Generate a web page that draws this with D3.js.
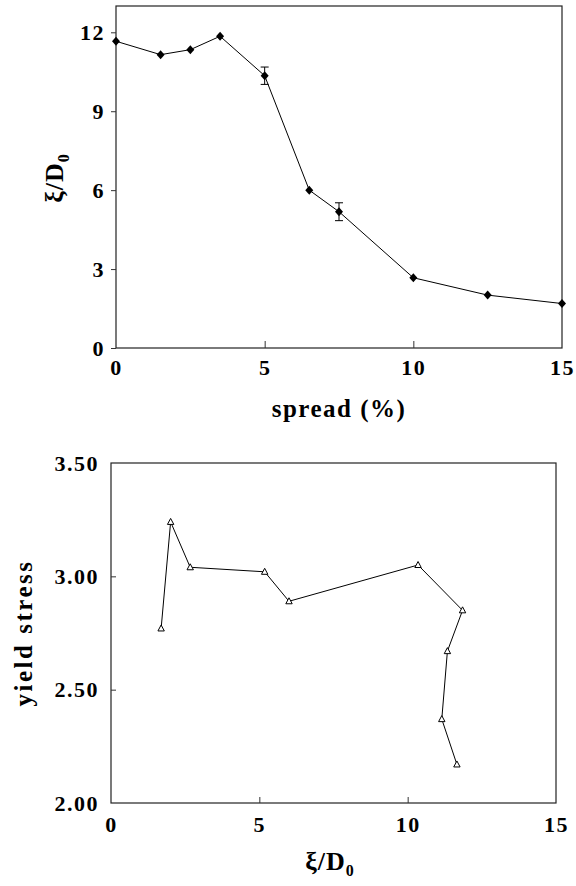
<!DOCTYPE html>
<html>
<head>
<meta charset="utf-8">
<script src="https://cdn.jsdelivr.net/npm/d3@7"></script>
<style>
  body { margin: 0; background: #fff; }
  text { font-family: "Liberation Serif", "Times New Roman", serif; font-weight: bold; fill: #000; }
</style>
</head>
<body>
<div id="chart"></div>
<script>
// top panel: xi/D0 vs spread
var spread = [0, 1.5, 2.5, 3.5, 5, 6.5, 7.5, 10, 12.5, 15];
var xiD0 = [11.66, 11.15, 11.34, 11.85, 10.35, 6.0, 5.18, 2.67, 2.01, 1.69];
var xiErr = [0, 0, 0, 0, 0.33, 0, 0.34, 0, 0, 0];
var topYTicks = [0, 3, 6, 9, 12];
var topXTicks = [0, 5, 10, 15];

// bottom panel: yield stress vs xi/D0 (same runs, reverse order)
var xiB = [1.69, 2.01, 2.67, 5.18, 6.0, 10.35, 11.85, 11.34, 11.15, 11.66];
var yieldStress = [2.77, 3.24, 3.04, 3.02, 2.89, 3.05, 2.85, 2.67, 2.37, 2.17];
var botYTicks = [2.0, 2.5, 3.0, 3.5];
var botXTicks = [0, 5, 10, 15];

var width = 576, height = 886;
var svg = d3.select("#chart").append("svg").attr("width", width).attr("height", height);

function styleTicks(a) {
    a.select(".domain").remove();
    a.selectAll("line").attr("stroke", "#333");
    a.selectAll("text").style("font-size", "22px").style("letter-spacing", "1.5px");
}

// ---------- top ----------
var x1 = d3.scaleLinear().domain([0, 15]).range([116, 562]);
var y1 = d3.scaleLinear().domain([0, 13]).range([348, 6]);

var g1 = svg.append("g");
g1.append("rect").attr("x", 116).attr("y", 6).attr("width", 446).attr("height", 342)
    .attr("fill", "none").attr("stroke", "#222").attr("stroke-width", 1.2);

var yAx1 = g1.append("g").attr("transform", "translate(116,0)")
    .call(d3.axisLeft(y1).tickValues(topYTicks).tickSize(5).tickPadding(6).tickFormat(d3.format("d")));
var xAx1 = g1.append("g").attr("transform", "translate(0,348)")
    .call(d3.axisBottom(x1).tickValues(topXTicks).tickSize(-7).tickPadding(11).tickFormat(d3.format("d")));
styleTicks(yAx1);
styleTicks(xAx1);
xAx1.selectAll("line").filter(function (d) { return d === 0 || d === 15; }).remove();

var line1 = d3.line().x(function (d, i) { return x1(spread[i]); }).y(function (d) { return y1(d); });
g1.append("path").datum(xiD0).attr("d", line1).attr("fill", "none").attr("stroke", "#000").attr("stroke-width", 1);

// error bars
var eb = g1.selectAll(".eb").data(xiD0.map(function (d, i) { return [spread[i], d, xiErr[i]]; }).filter(function (d) { return d[2] > 0; }))
    .enter().append("g").attr("class", "eb");
eb.append("line").attr("x1", function (d) { return x1(d[0]); }).attr("x2", function (d) { return x1(d[0]); })
    .attr("y1", function (d) { return y1(d[1] - d[2]); }).attr("y2", function (d) { return y1(d[1] + d[2]); })
    .attr("stroke", "#000");
[-1, 1].forEach(function (s) {
    eb.append("line").attr("x1", function (d) { return x1(d[0]) - 4; }).attr("x2", function (d) { return x1(d[0]) + 4; })
        .attr("y1", function (d) { return y1(d[1] + s * d[2]); }).attr("y2", function (d) { return y1(d[1] + s * d[2]); })
        .attr("stroke", "#000");
});

g1.selectAll(".dia").data(xiD0).enter().append("path")
    .attr("transform", function (d, i) { return "translate(" + x1(spread[i]) + "," + y1(d) + ")"; })
    .attr("d", "M0,-4.5L4,0L0,4.5L-4,0Z").attr("fill", "#000");

g1.append("text").attr("x", 339).attr("y", 417).attr("text-anchor", "middle")
    .style("font-size", "25px").style("letter-spacing", "1.5px").text("spread (%)");
var t1 = g1.append("text").attr("transform", "translate(63,178) rotate(-90)").attr("text-anchor", "middle")
    .style("font-size", "26px").style("letter-spacing", "1px");
t1.append("tspan").text("ξ/D");
t1.append("tspan").attr("dy", 6).style("font-size", "16px").text("0");

// ---------- bottom ----------
var x2 = d3.scaleLinear().domain([0, 15]).range([111, 556]);
var y2 = d3.scaleLinear().domain([2, 3.5]).range([803, 463]);

var g2 = svg.append("g");
g2.append("rect").attr("x", 111).attr("y", 463).attr("width", 445).attr("height", 340)
    .attr("fill", "none").attr("stroke", "#222").attr("stroke-width", 1.2);

var yAx2 = g2.append("g").attr("transform", "translate(111,0)")
    .call(d3.axisLeft(y2).tickValues(botYTicks).tickSize(-5).tickPadding(12).tickFormat(d3.format(".2f")));
var xAx2 = g2.append("g").attr("transform", "translate(0,803)")
    .call(d3.axisBottom(x2).tickValues(botXTicks).tickSize(-6).tickPadding(13).tickFormat(d3.format("d")));
styleTicks(yAx2);
styleTicks(xAx2);
yAx2.selectAll("line").filter(function (d) { return d === 2 || d === 3.5; }).remove();
xAx2.selectAll("line").filter(function (d) { return d === 0 || d === 15; }).remove();

var line2 = d3.line().x(function (d, i) { return x2(xiB[i]); }).y(function (d) { return y2(d); });
g2.append("path").datum(yieldStress).attr("d", line2).attr("fill", "none").attr("stroke", "#000").attr("stroke-width", 1);

g2.selectAll(".tri").data(yieldStress).enter().append("path")
    .attr("transform", function (d, i) { return "translate(" + x2(xiB[i]) + "," + y2(d) + ")"; })
    .attr("d", "M0,-3.5L3.2,2.5L-3.2,2.5Z").attr("fill", "#fff").attr("stroke", "#000").attr("stroke-width", 1);

var t2 = g2.append("text").attr("x", 330).attr("y", 870).attr("text-anchor", "middle")
    .style("font-size", "26px").style("letter-spacing", "1px");
t2.append("tspan").text("ξ/D");
t2.append("tspan").attr("dy", 6).style("font-size", "16px").text("0");
g2.append("text").attr("transform", "translate(32,633) rotate(-90)").attr("text-anchor", "middle")
    .style("font-size", "25px").style("letter-spacing", "2.5px").text("yield stress");
</script>
</body>
</html>
